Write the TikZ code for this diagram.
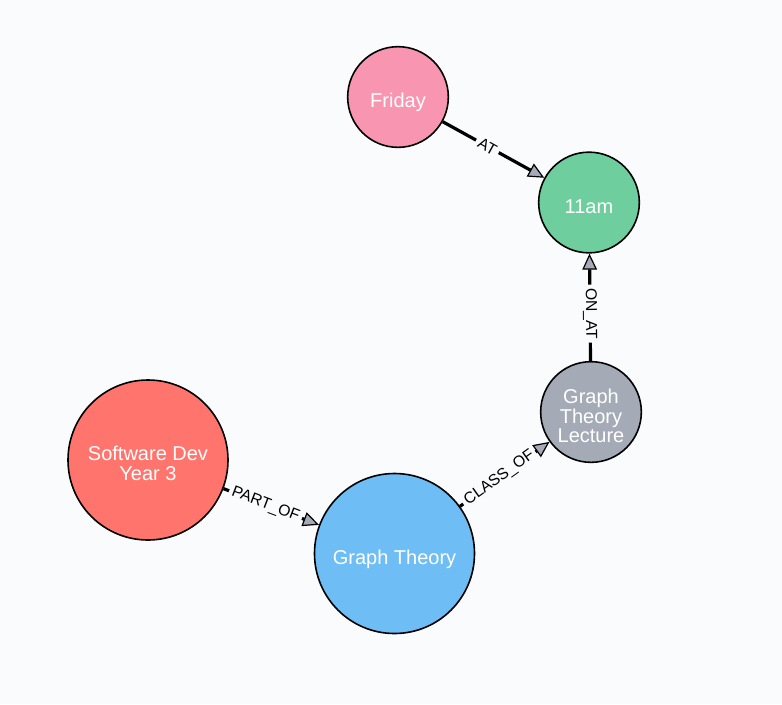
\documentclass[tikz,border=0pt]{standalone}
\usepackage{fontspec}
\setmainfont{Liberation Sans}
\usetikzlibrary{arrows.meta}

\definecolor{bgcol}{HTML}{F9FBFD}
\definecolor{daycol}{HTML}{F896B1}
\definecolor{timecol}{HTML}{6FCE9E}
\definecolor{lecturecol}{HTML}{A5ABB6}
\definecolor{coursecol}{HTML}{FF756E}
\definecolor{modulecol}{HTML}{6EBEF5}
\definecolor{tipcol}{HTML}{A5ABB6}

\begin{document}
\begin{tikzpicture}[
  x=0.75pt, y=-0.75pt,
  entity/.style={circle, draw=black, line width=1.2pt, text=white, align=center, inner sep=0pt, text depth=0pt, font=\fontsize{15}{15}\selectfont},
  small/.style={entity, minimum size=75.5pt},
  big/.style={entity, minimum size=120pt},
  oneline/.style={text height=16pt},
  twolines/.style={text height=31pt},
  threelines/.style={text height=45pt, font=\fontsize{15}{13.6}\selectfont},
  rel/.style={-{Triangle[length=12pt, width=11pt, line width=0.9pt, fill=tipcol]}, line width=2.4pt},
  rellabel/.style={fill=bgcol, text=black, inner sep=2.5pt, sloped, pos=0.44, font=\fontsize{11.8}{11.8}\selectfont}
]
\fill[bgcol] (0,0) rectangle (782,704);
\useasboundingbox (0,0) rectangle (782,704);

\node[small, oneline, fill=daycol] (friday) at (398,97) {Friday};
\node[small, oneline, fill=timecol] (eleven) at (589,202.5) {11am};
\node[small, threelines, fill=lecturecol] (lecture) at (591,412) {Graph\\Theory\\Lecture};
\node[big, twolines, fill=coursecol] (softdev) at (148,460) {Software Dev\\Year 3};
\node[big, oneline, fill=modulecol] (graphtheory) at (394.5,553.5) {Graph Theory};

\draw[rel] (friday) -- node[rellabel]{AT} (eleven);
\draw[rel] (lecture) -- node[rellabel]{ON\_AT} (eleven);
\draw[rel] (softdev) -- node[rellabel]{PART\_OF} (graphtheory);
\draw[rel] (graphtheory) -- node[rellabel]{CLASS\_OF} (lecture);
\end{tikzpicture}
\end{document}
